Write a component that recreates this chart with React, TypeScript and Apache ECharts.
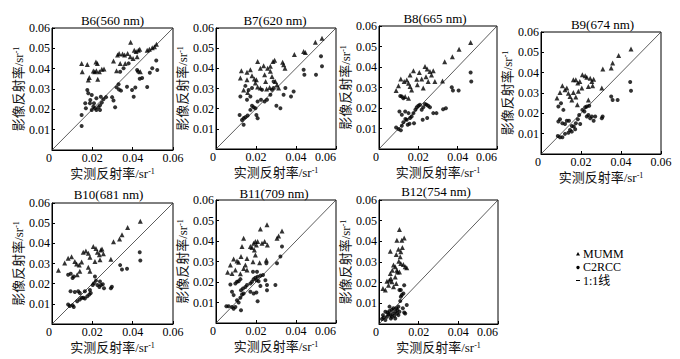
import React, { useEffect, useRef } from "react";
import * as echarts from "echarts";

const titles = ["B6(560 nm)", "B7(620 nm)", "B8(665 nm)", "B9(674 nm)", "B10(681 nm)", "B11(709 nm)", "B12(754 nm)"];
const xTicks = [0, 0.02, 0.04, 0.06];
const yTicks = [0.01, 0.02, 0.03, 0.04, 0.05, 0.06];
const legendNames = ["MUMM", "C2RCC", "1:1线"];
const oneToOne = [[0, 0], [0.06, 0.06]];

const b6Mumm = [[0.0147,0.0426],[0.015,0.0385],[0.0175,0.042],[0.0185,0.0357],[0.0218,0.0433],[0.0225,0.0426],[0.0205,0.0389],[0.0212,0.0385],[0.022,0.039],[0.0235,0.0385],[0.0247,0.0397],[0.0258,0.0398],[0.0227,0.0348],[0.018,0.0344],[0.0305,0.0438],[0.0325,0.0467],[0.0333,0.0475],[0.035,0.0472],[0.036,0.0467],[0.0375,0.0475],[0.039,0.053],[0.0408,0.049],[0.0417,0.0484],[0.0428,0.049],[0.0435,0.0495],[0.0422,0.0459],[0.0402,0.045],[0.0388,0.0459],[0.0472,0.049],[0.0483,0.0495],[0.0497,0.0503],[0.0508,0.0508],[0.0518,0.052],[0.0338,0.0426],[0.0363,0.0426],[0.0438,0.0385],[0.032,0.039]];
const b6C2rcc = [[0.0147,0.0172],[0.0147,0.0118],[0.0175,0.0295],[0.0165,0.023],[0.0197,0.027],[0.019,0.0246],[0.0205,0.0213],[0.0213,0.0205],[0.022,0.0197],[0.023,0.021],[0.0238,0.022],[0.0247,0.0233],[0.0255,0.025],[0.0268,0.026],[0.0197,0.0197],[0.0188,0.023],[0.0208,0.023],[0.022,0.0254],[0.0298,0.026],[0.0305,0.0243],[0.0313,0.021],[0.032,0.0308],[0.0332,0.0298],[0.0342,0.0292],[0.033,0.0323],[0.0338,0.0385],[0.0355,0.0402],[0.038,0.0426],[0.0397,0.0295],[0.0405,0.0262],[0.0413,0.0307],[0.0422,0.0393],[0.0427,0.0385],[0.0435,0.035],[0.0447,0.0354],[0.0472,0.031],[0.0485,0.038],[0.0497,0.0402],[0.0517,0.044],[0.0522,0.0393],[0.0372,0.0311],[0.0242,0.0262],[0.018,0.0279],[0.0168,0.0205],[0.0238,0.0197]];

const b7Mumm = [[0.0127,0.0388],[0.0122,0.0352],[0.0155,0.038],[0.0155,0.0343],[0.0172,0.0393],[0.018,0.0363],[0.0192,0.0347],[0.0208,0.0434],[0.0202,0.0343],[0.0197,0.0327],[0.0222,0.0401],[0.0238,0.0413],[0.0243,0.0368],[0.0248,0.0335],[0.0258,0.0401],[0.0272,0.041],[0.0285,0.0434],[0.0293,0.044],[0.0272,0.0385],[0.028,0.036],[0.0297,0.0335],[0.0305,0.0318],[0.0333,0.043],[0.0338,0.0418],[0.0345,0.0401],[0.0392,0.0468],[0.0438,0.0484],[0.0447,0.0479],[0.0497,0.0529],[0.053,0.0549],[0.0253,0.0297],[0.0222,0.0302],[0.0268,0.0305],[0.0158,0.028],[0.0138,0.0293],[0.0208,0.0307],[0.0313,0.0302]];
const b7C2rcc = [[0.0122,0.026],[0.0118,0.0169],[0.013,0.0144],[0.0138,0.0153],[0.0147,0.0158],[0.0158,0.0166],[0.0138,0.012],[0.0172,0.0194],[0.018,0.0214],[0.0188,0.0207],[0.0197,0.0202],[0.0208,0.0153],[0.0202,0.0169],[0.0155,0.0244],[0.0172,0.026],[0.0163,0.0293],[0.0147,0.0313],[0.018,0.0302],[0.0208,0.0236],[0.0225,0.0244],[0.0243,0.0236],[0.0255,0.0244],[0.0272,0.0269],[0.028,0.0294],[0.0288,0.0302],[0.0302,0.0214],[0.0322,0.0202],[0.0338,0.0269],[0.0347,0.0302],[0.0375,0.026],[0.0388,0.0285],[0.0438,0.0393],[0.0442,0.0368],[0.05,0.0368],[0.0525,0.046],[0.053,0.041],[0.023,0.0294],[0.0288,0.0335]];

const b8Mumm = [[0.0087,0.0285],[0.0099,0.0308],[0.0111,0.0342],[0.0128,0.0329],[0.0141,0.0337],[0.015,0.0321],[0.0158,0.0305],[0.0166,0.0288],[0.0175,0.0382],[0.0158,0.0361],[0.0205,0.0373],[0.0217,0.0342],[0.0234,0.0402],[0.0245,0.039],[0.0239,0.0353],[0.0259,0.0378],[0.0267,0.0361],[0.0276,0.0382],[0.0284,0.0329],[0.025,0.0329],[0.0192,0.034],[0.0133,0.0256],[0.015,0.0248],[0.0323,0.0332],[0.0334,0.0426],[0.0373,0.045],[0.0407,0.0486],[0.0466,0.0519],[0.0225,0.0297],[0.0195,0.0313]];
const b8C2rcc = [[0.0087,0.0105],[0.0099,0.0097],[0.0111,0.0091],[0.0116,0.0113],[0.0124,0.013],[0.0134,0.0146],[0.0141,0.0143],[0.0155,0.0123],[0.0158,0.0151],[0.0166,0.0159],[0.0175,0.0175],[0.0185,0.0191],[0.0192,0.0204],[0.02,0.0211],[0.0208,0.0216],[0.0217,0.0191],[0.0225,0.0204],[0.0234,0.022],[0.0242,0.0216],[0.025,0.0211],[0.0259,0.0204],[0.0276,0.0175],[0.0292,0.0175],[0.0326,0.0194],[0.034,0.0199],[0.0104,0.0183],[0.0116,0.0167],[0.0133,0.0183],[0.015,0.0175],[0.0116,0.0256],[0.0108,0.0259],[0.0124,0.0248],[0.0245,0.0151],[0.0222,0.0143],[0.037,0.0301],[0.0376,0.0285],[0.0405,0.0285],[0.0466,0.0373],[0.0469,0.0329],[0.0178,0.0126],[0.0146,0.0118]];

const b9Mumm = [[0.008,0.0275],[0.0095,0.0303],[0.0107,0.0336],[0.012,0.0316],[0.0129,0.0324],[0.0137,0.0299],[0.0145,0.0283],[0.0154,0.0266],[0.0162,0.0365],[0.0174,0.0365],[0.0184,0.0349],[0.0194,0.0357],[0.0207,0.039],[0.0221,0.0385],[0.0229,0.0378],[0.0237,0.0332],[0.0246,0.0373],[0.0254,0.0357],[0.0263,0.0368],[0.0258,0.0336],[0.0204,0.0324],[0.0187,0.0308],[0.0162,0.0303],[0.0174,0.028],[0.0237,0.0266],[0.0304,0.0324],[0.0309,0.0418],[0.0351,0.0423],[0.0358,0.0447],[0.0388,0.0484],[0.045,0.0516],[0.0182,0.0242]];
const b9C2rcc = [[0.0087,0.0234],[0.01,0.025],[0.0112,0.0217],[0.0095,0.0171],[0.0087,0.016],[0.0107,0.0151],[0.012,0.0148],[0.0129,0.0164],[0.014,0.0164],[0.0154,0.0138],[0.0164,0.0135],[0.0174,0.0151],[0.0184,0.0171],[0.0191,0.0192],[0.0207,0.0217],[0.0217,0.0209],[0.0229,0.0184],[0.0237,0.0192],[0.0246,0.0176],[0.0254,0.0184],[0.0263,0.0164],[0.0271,0.0184],[0.0304,0.0176],[0.0308,0.0184],[0.0241,0.0237],[0.0221,0.023],[0.0084,0.0089],[0.0095,0.0082],[0.0107,0.0082],[0.012,0.0099],[0.0137,0.0105],[0.0145,0.0118],[0.0154,0.011],[0.0171,0.0122],[0.0196,0.0148],[0.0351,0.0283],[0.0358,0.0266],[0.0383,0.0266],[0.0446,0.0354],[0.045,0.0311],[0.0229,0.0234]];

const b10Mumm = [[0.0032,0.0267],[0.0063,0.0303],[0.008,0.0326],[0.0097,0.0334],[0.0113,0.031],[0.0122,0.0297],[0.0135,0.0293],[0.0147,0.0307],[0.0155,0.0356],[0.0168,0.0362],[0.018,0.0351],[0.0188,0.0331],[0.0205,0.0384],[0.0218,0.0375],[0.0225,0.0356],[0.0235,0.0343],[0.0242,0.0367],[0.0248,0.0372],[0.0255,0.0348],[0.0238,0.0318],[0.0213,0.031],[0.018,0.0282],[0.0188,0.0261],[0.0138,0.0261],[0.0125,0.0244],[0.0292,0.0321],[0.0305,0.0408],[0.0335,0.0421],[0.0347,0.0443],[0.0375,0.0479],[0.0438,0.051]];
const b10C2rcc = [[0.008,0.0244],[0.0093,0.0249],[0.0102,0.0228],[0.0108,0.0236],[0.0092,0.0162],[0.0113,0.0159],[0.013,0.0162],[0.0138,0.0154],[0.008,0.0097],[0.0088,0.0089],[0.0102,0.0093],[0.0108,0.0084],[0.0125,0.0113],[0.0138,0.0121],[0.0147,0.013],[0.0155,0.013],[0.0163,0.0126],[0.0175,0.0138],[0.0185,0.0146],[0.0192,0.0154],[0.0202,0.0193],[0.0208,0.0202],[0.0218,0.0215],[0.0225,0.0193],[0.0235,0.0184],[0.0243,0.0193],[0.0252,0.0197],[0.0258,0.0177],[0.0238,0.0211],[0.0188,0.0169],[0.0163,0.0162],[0.0292,0.0177],[0.0297,0.0185],[0.0338,0.0292],[0.0347,0.027],[0.0372,0.0274],[0.0435,0.0356],[0.0438,0.0315],[0.0213,0.0236]];

const b11Mumm = [[0.0058,0.0247],[0.0072,0.0283],[0.008,0.0242],[0.0088,0.0312],[0.0097,0.0258],[0.0105,0.0302],[0.0113,0.0296],[0.0122,0.024],[0.0125,0.0324],[0.013,0.0373],[0.0138,0.0413],[0.0147,0.0283],[0.0155,0.0258],[0.0172,0.0373],[0.018,0.0368],[0.0188,0.0389],[0.0197,0.0397],[0.0202,0.0381],[0.0197,0.0332],[0.0192,0.0356],[0.0208,0.0397],[0.0222,0.0459],[0.023,0.0389],[0.0243,0.0397],[0.0255,0.0479],[0.0257,0.0381],[0.0252,0.0307],[0.0218,0.0294],[0.0155,0.0315],[0.0305,0.0413],[0.0313,0.0425],[0.033,0.0449],[0.0185,0.0299],[0.0138,0.0266]];
const b11C2rcc = [[0.0052,0.0082],[0.0063,0.0082],[0.008,0.0078],[0.0088,0.007],[0.0097,0.0078],[0.0125,0.0062],[0.0105,0.0111],[0.0113,0.01],[0.0122,0.0123],[0.013,0.0139],[0.0138,0.0144],[0.0125,0.016],[0.0135,0.0168],[0.0072,0.0188],[0.0097,0.0193],[0.0105,0.0201],[0.0113,0.0204],[0.0122,0.0214],[0.0147,0.0176],[0.0155,0.0185],[0.0172,0.0193],[0.018,0.0201],[0.0188,0.0214],[0.0197,0.0221],[0.0202,0.0209],[0.0208,0.0226],[0.0213,0.0204],[0.0222,0.0231],[0.0235,0.0234],[0.0247,0.0209],[0.0255,0.016],[0.0255,0.0185],[0.0188,0.0144],[0.0202,0.0149],[0.0208,0.0106],[0.0222,0.0181],[0.008,0.0152],[0.0088,0.0136],[0.0172,0.0152],[0.0252,0.0291],[0.0297,0.0185],[0.0305,0.0291],[0.0322,0.0324],[0.033,0.0373],[0.0185,0.025],[0.0205,0.025]];

const b12Mumm = [[0.002,0.0172],[0.0032,0.0164],[0.004,0.0207],[0.0052,0.0212],[0.0065,0.0204],[0.0073,0.018],[0.0048,0.0188],[0.0057,0.0244],[0.0067,0.026],[0.0073,0.0285],[0.0082,0.0277],[0.009,0.026],[0.0093,0.0252],[0.0103,0.0252],[0.011,0.0293],[0.0123,0.0288],[0.0132,0.0277],[0.014,0.0272],[0.0057,0.0352],[0.0087,0.0336],[0.009,0.0405],[0.0098,0.0362],[0.0103,0.0457],[0.011,0.0349],[0.0118,0.037],[0.0127,0.0416],[0.0115,0.0405],[0.0107,0.0325],[0.0082,0.0228],[0.006,0.022],[0.01,0.0304],[0.0087,0.0196]];
const b12C2rcc = [[0.0015,0.0024],[0.0023,0.0031],[0.0032,0.0019],[0.004,0.0035],[0.0043,0.0056],[0.0048,0.0047],[0.0053,0.0063],[0.0057,0.0043],[0.006,0.0027],[0.0065,0.0069],[0.007,0.0051],[0.0073,0.0076],[0.0077,0.004],[0.0082,0.0059],[0.0087,0.0076],[0.009,0.0051],[0.0093,0.0068],[0.0098,0.0084],[0.0103,0.0059],[0.0107,0.0111],[0.011,0.0132],[0.0115,0.014],[0.0103,0.0164],[0.011,0.0164],[0.0123,0.0148],[0.0127,0.0056],[0.014,0.0092],[0.0132,0.0051],[0.012,0.0076],[0.0032,0.0059],[0.0053,0.0084],[0.0065,0.0035],[0.0082,0.0027],[0.002,0.0043],[0.0098,0.0043],[0.0127,0.0188]];

const mummSets = [b6Mumm, b7Mumm, b8Mumm, b9Mumm, b10Mumm, b11Mumm, b12Mumm];
const c2rccSets = [b6C2rcc, b7C2rcc, b8C2rcc, b9C2rcc, b10C2rcc, b11C2rcc, b12C2rcc];

// layout (pixels)
const panels = [
  { left: 52, top: 28, w: 121, h: 122, tx: 112.5, ty: 20.5, maxAlign: "center" },
  { left: 216, top: 28, w: 120, h: 121, tx: 275, ty: 20.5, maxAlign: "right" },
  { left: 379, top: 26, w: 118, h: 123, tx: 435, ty: 18.5, maxAlign: "right" },
  { left: 541, top: 32, w: 120, h: 122, tx: 602.5, ty: 24, maxAlign: "center" },
  { left: 52, top: 203, w: 121, h: 121, tx: 108.5, ty: 194.5, maxAlign: "center" },
  { left: 216, top: 200, w: 120, h: 123, tx: 274, ty: 193.5, maxAlign: "right" },
  { left: 379, top: 200, w: 119, h: 124, tx: 436, ty: 191.5, maxAlign: "right" },
];

const FONT = "'Liberation Serif', 'Times New Roman', 'Noto Sans CJK SC', serif";
const fmt = (v: number) => (v === 0 ? "0" : v.toFixed(2));
const supRich = { sup: { fontSize: 8, verticalAlign: "top", fontFamily: FONT, color: "#000" } };
const legendY = [253.5, 267, 280.5];

export default function App() {
  const ref = useRef<HTMLDivElement>(null);
  useEffect(() => {
    if (!ref.current) return;
    const chart = echarts.init(ref.current, null, { renderer: "svg" });
    const grid: any[] = [];
    const xAxis: any[] = [];
    const yAxis: any[] = [];
    const series: any[] = [];
    const graphic: any[] = [];
    panels.forEach((p, i) => {
      grid.push({ left: p.left, top: p.top, width: p.w, height: p.h, show: true, borderColor: "#000", borderWidth: 1, backgroundColor: "transparent" });
      xAxis.push({
        gridIndex: i, type: "value", min: xTicks[0], max: xTicks[xTicks.length - 1], interval: 0.02,
        axisLine: { show: true, lineStyle: { color: "#000", width: 1 } },
        axisTick: { show: true, inside: true, length: 3, lineStyle: { color: "#000" } },
        splitLine: { show: false },
        axisLabel: { color: "#000", fontSize: 12, fontFamily: FONT, margin: 2, formatter: fmt, alignMinLabel: "right", alignMaxLabel: p.maxAlign },
        name: "实测反射率/sr{sup|-1}", nameLocation: "middle", nameGap: 17,
        nameTextStyle: { color: "#111", fontSize: 13, fontFamily: FONT, rich: supRich },
      });
      yAxis.push({
        gridIndex: i, type: "value", min: 0, max: yTicks[yTicks.length - 1], interval: 0.01,
        axisLine: { show: true, lineStyle: { color: "#000", width: 1 } },
        axisTick: { show: true, inside: true, length: 3, lineStyle: { color: "#000" } },
        splitLine: { show: false },
        axisLabel: { color: "#000", fontSize: 12, fontFamily: FONT, margin: 2, showMinLabel: false, formatter: fmt },
        name: "影像反射率/sr{sup|-1}", nameLocation: "middle", nameGap: 26,
        nameTextStyle: { color: "#111", fontSize: 13, fontFamily: FONT, rich: supRich },
      });
      series.push({
        name: legendNames[2], type: "line", xAxisIndex: i, yAxisIndex: i, data: oneToOne,
        showSymbol: false, symbol: "none", lineStyle: { color: "#333", width: 0.8 }, silent: true, z: 1,
      });
      series.push({
        name: legendNames[0], type: "scatter", xAxisIndex: i, yAxisIndex: i, data: mummSets[i],
        symbol: "triangle", symbolSize: 5, itemStyle: { color: "#000" }, z: 3,
      });
      series.push({
        name: legendNames[1], type: "scatter", xAxisIndex: i, yAxisIndex: i, data: c2rccSets[i],
        symbol: "circle", symbolSize: 4, itemStyle: { color: "#000" }, z: 3,
      });
      graphic.push({
        type: "text", x: p.tx, y: p.ty,
        style: { text: titles[i], fill: "#000", font: `13px ${FONT}`, align: "center", verticalAlign: "middle" },
      });
    });
    // legend
    graphic.push({ type: "polygon", shape: { points: [[576, legendY[0] + 2], [580, legendY[0] + 2], [578, legendY[0] - 1.5]] }, style: { fill: "#000" } });
    graphic.push({ type: "circle", shape: { cx: 578, cy: legendY[1] + 0.5, r: 1.7 }, style: { fill: "#000" } });
    graphic.push({ type: "line", shape: { x1: 576, y1: legendY[2], x2: 580, y2: legendY[2] }, style: { stroke: "#000", lineWidth: 1 } });
    legendNames.forEach((n, k) => {
      graphic.push({ type: "text", x: 583, y: legendY[k], style: { text: n, fill: "#000", font: `12px ${FONT}`, lineHeight: 11, verticalAlign: "middle" } });
    });

    chart.setOption({ animation: false, backgroundColor: "#fff", grid, xAxis, yAxis, series, graphic });
    return () => chart.dispose();
  }, []);
  return <div ref={ref} style={{ position: "fixed", left: 0, top: 0, width: 680, height: 359, background: "#fff" }} />;
}
